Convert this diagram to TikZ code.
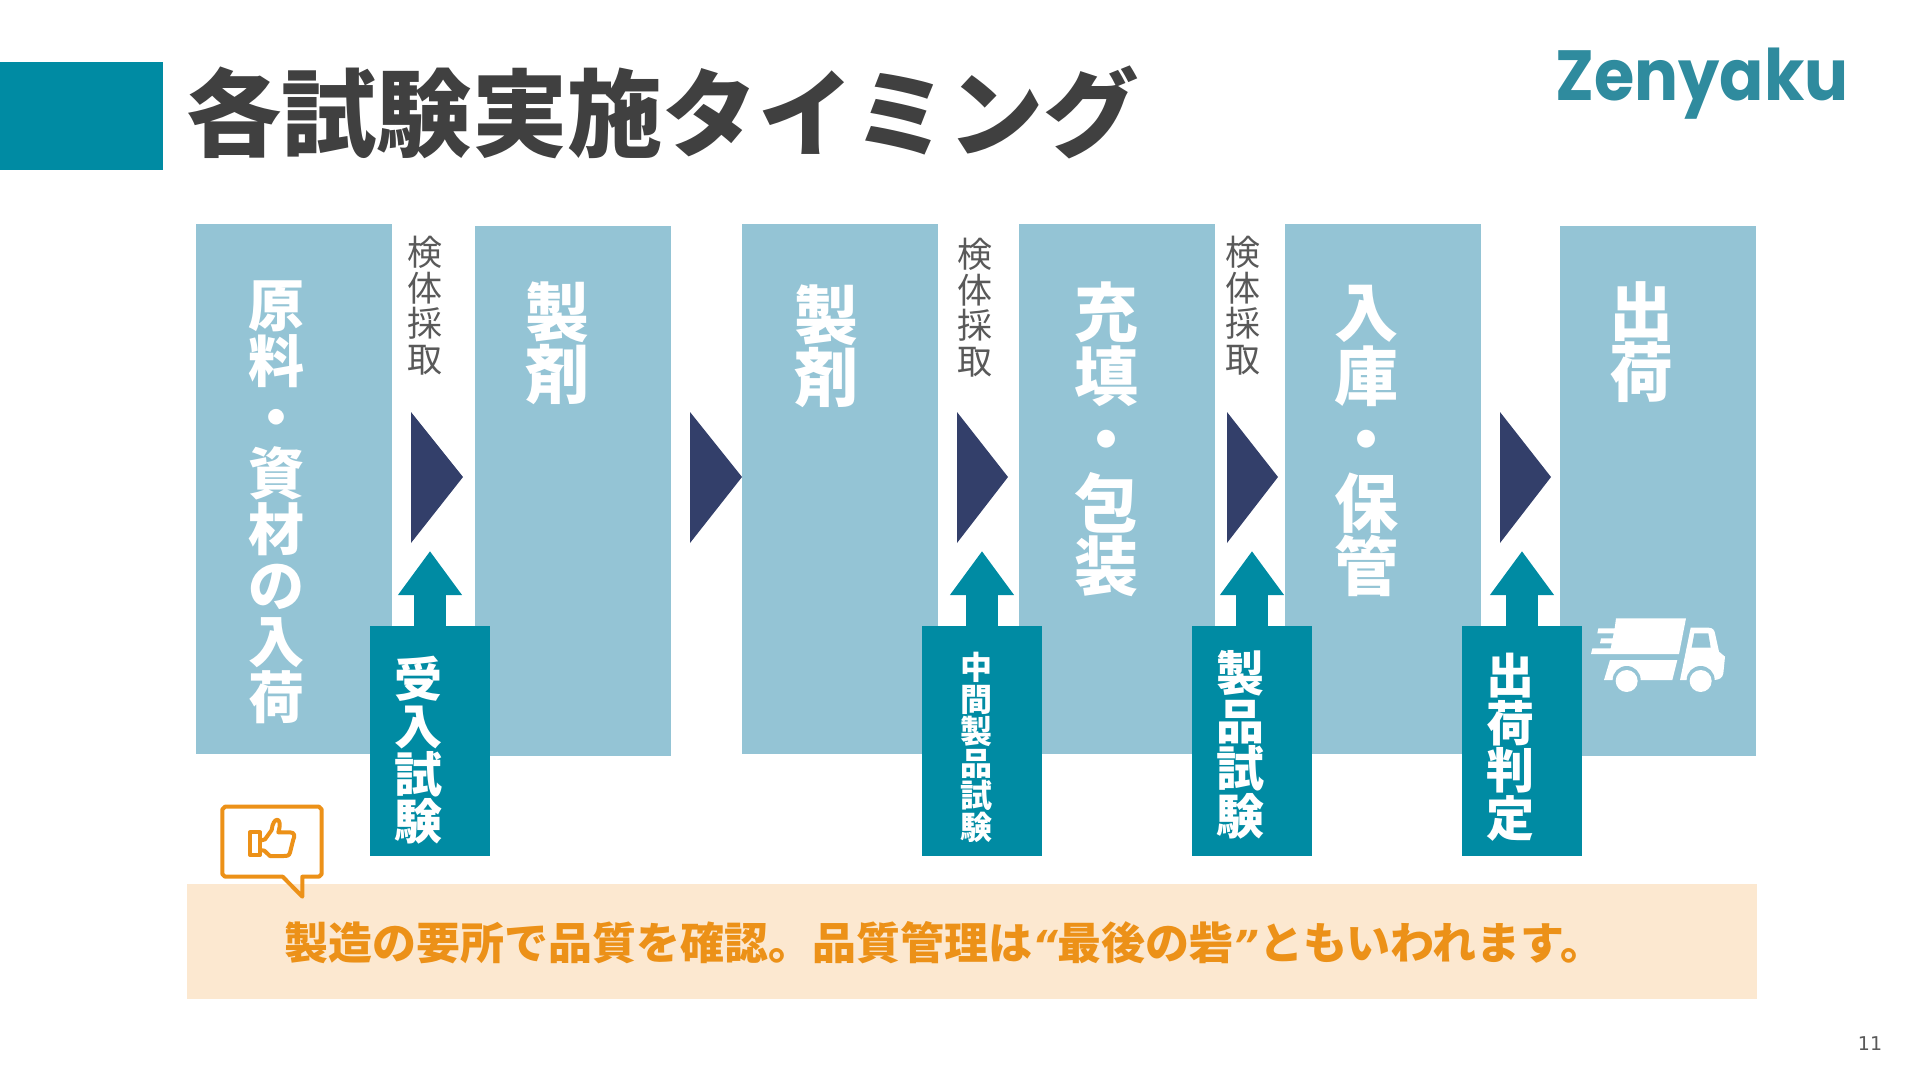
\documentclass[tikz,border=0pt]{standalone}
\usepackage{fontspec}
\usepackage{xcolor}
\usepackage{tikz}
\usetikzlibrary{arrows.meta}
\setmainfont{Noto Sans CJK JP}
\newfontfamily\logofont{Poppins}
\newfontfamily\quotefont{DejaVu Sans}
\newfontfamily\pagefont{DejaVu Sans}
\definecolor{zenTeal}{HTML}{008BA3}
\definecolor{zenLogo}{HTML}{2F8B9E}
\definecolor{zenPale}{HTML}{94C4D5}
\definecolor{zenNavy}{HTML}{333F6A}
\definecolor{zenInk}{HTML}{404040}
\definecolor{zenGrey}{HTML}{595959}
\definecolor{zenOrange}{HTML}{EC9118}
\definecolor{zenCream}{HTML}{FCE8D0}
\setlength{\lineskiplimit}{-100pt}
\newcommand{\fsz}[2]{\fontsize{#1}{#2}\selectfont}

\begin{document}
\begin{tikzpicture}[
  x=1pt,y=-1pt,
  stagebox/.style={fill=zenPale,anchor=north west,inner sep=0pt,minimum width=196pt,minimum height=530pt},
  testbox/.style={fill=zenTeal,inner sep=0pt,minimum width=120pt,minimum height=230pt},
  stagelabel/.style 2 args={anchor=north,inner sep=0pt,align=center,text=white,font=\fsz{#1}{#2}\bfseries},
  testlabel/.style 2 args={inner sep=0pt,align=center,text=white,font=\fsz{#1}{#2}\bfseries},
  samplelabel/.style={anchor=north,inner sep=0pt,align=center,text=zenGrey,font=\fsz{35}{35.5}},
  uparr/.style={-{Triangle[length=44pt,width=61pt]},line width=32pt,zenTeal},
  chevron/.style={fill=zenNavy}
]
\useasboundingbox (0,0) rectangle (1920,1080);
\fill[zenTeal] (0,62) rectangle (163,170);
\node[anchor=west,inner sep=0pt,text=zenInk,font=\fsz{95.3}{95}\bfseries] (title) at (186,112) {各試験実施タイミング};
\node[inner sep=0pt,text=zenLogo,font=\logofont\fsz{71}{71}\bfseries] (logo) at (1702,84) {\scalebox{.92}[1]{Zenyaku}};

\node[stagebox] (genryo) at (196,224) {};
\node[stagebox] (seizai) at (475,226) {};
\node[stagebox] (seizaib) at (742,224) {};
\node[stagebox] (juten) at (1019,224) {};
\node[stagebox] (nyuko) at (1285,224) {};
\node[stagebox] (shukka) at (1560,226) {};

\node[stagelabel={56}{56}] (lgenryo) at (276,281) {原\\料\\・\\資\\材\\の\\入\\荷};
\node[stagelabel={64}{62}] (lseizai) at (557,282) {製\\剤};
\node[stagelabel={64}{62}] (lseizaib) at (826,285) {製\\剤};
\node[stagelabel={64}{63.5}] (ljuten) at (1106,282) {充\\填\\・\\包\\装};
\node[stagelabel={64}{63.5}] (lnyuko) at (1366,285) {入\\庫\\・\\保\\管};
\node[stagelabel={64}{61}] (lshukka) at (1641,281) {出\\荷};

\node[samplelabel] (sama) at (425,236) {検\\体\\採\\取};
\node[samplelabel] (samb) at (975,238) {検\\体\\採\\取};
\node[samplelabel] (samc) at (1243,236) {検\\体\\採\\取};

\foreach \x/\w in {411/52,690/52,957/51,1227/51,1500/51}
  \fill[chevron] (\x,412) -- (\x+\w,477) -- (\x,543) -- cycle;

\node[testbox] (uke) at (430,741) {};
\node[testbox] (chu) at (982,741) {};
\node[testbox] (sei) at (1252,741) {};
\node[testbox] (han) at (1522,741) {};
\coordinate (tipuke) at (430,551);
\coordinate (tipchu) at (982,551);
\coordinate (tipsei) at (1252,551);
\coordinate (tiphan) at (1522,551);
\draw[uparr] (uke.north) -- (tipuke);
\draw[uparr] (chu.north) -- (tipchu);
\draw[uparr] (sei.north) -- (tipsei);
\draw[uparr] (han.north) -- (tiphan);
\node[testlabel={48}{47.5}] (luke) at (418,750) {受\\入\\試\\験};
\node[testlabel={32}{32}] (lchu) at (976,747) {中\\間\\製\\品\\試\\験};
\node[testlabel={48}{47.5}] (lsei) at (1240,745) {製\\品\\試\\験};
\node[testlabel={48}{47.5}] (lhan) at (1510,747) {出\\荷\\判\\定};

\begin{scope}[shift={(1580,605)},scale=1/3]
\fill[white] (108,40) -- (318,40) -- (297,147) -- (33,147) -- (37,130) -- (92,130) -- (95,115) -- (60,115)
  -- (63,100) -- (98,100) -- (101,85) -- (52,85) -- (55,70) -- (104,70) -- cycle;
\fill[white] (90,165) -- (292,165) -- (277,225) -- (72,225) -- cycle;
\fill[white] (332,68) -- (385,68) .. controls (398,68) and (403,75) .. (405,85) -- (417,140) -- (435,155)
  -- (430,205) .. controls (428,220) and (415,225) .. (400,225) -- (300,225) -- cycle;
\fill[zenPale] (343,85) -- (385,85) -- (392,128) -- (335,128) -- cycle;
\fill[zenPale] (140,225) circle (42);
\fill[zenPale] (362,225) circle (42);
\fill[white] (140,228) circle (33);
\fill[white] (362,228) circle (33);
\end{scope}

\fill[zenCream] (187,884) rectangle (1757,999);
\begin{scope}[shift={(215,800)},scale=1/3]
\fill[white] (22,20) rectangle (320,230);
\draw[zenOrange,line width=4pt,line join=round] (30,20) -- (312,20) -- (320,28) -- (320,222) -- (312,230) -- (262,230) -- (262,290)
  -- (203,230) -- (30,230) -- (22,222) -- (22,28) -- cycle;
\draw[zenOrange,line width=4pt,line join=round] (105,97) rectangle (135,165);
\draw[zenOrange,line width=4pt,line join=round] (135,122) -- (150,118) -- (170,90) .. controls (174,48) and (205,48) .. (190,97)
  -- (225,97) .. controls (240,97) and (240,110) .. (235,118) -- (225,158) .. controls (222,168) and (215,168) .. (205,168)
  -- (165,168) -- (148,152) -- (135,150);
\end{scope}
\node[inner sep=0pt,anchor=west,text=zenOrange,font=\fsz{44}{44}\bfseries] (msg) at (284,943)
  {製造の要所で品質を確認。品質管理は{\quotefont\fsz{40}{40}\bfseries\itshape “}最後の砦{\quotefont\fsz{40}{40}\bfseries\itshape ”}ともいわれます。};
\node[inner sep=0pt,text=zenGrey,font=\pagefont\fsz{19}{19}] (pagenum) at (1870,1044) {11};
\end{tikzpicture}
\end{document}
